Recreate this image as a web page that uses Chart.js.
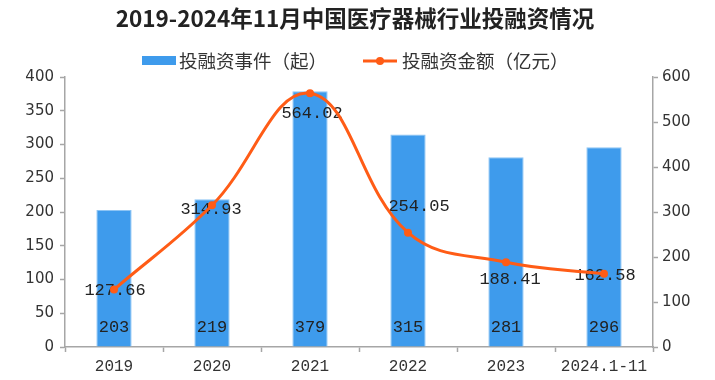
<!DOCTYPE html>
<html>
<head>
<meta charset="utf-8">
<script src="https://cdn.jsdelivr.net/npm/chart.js@4"></script>
<style>
html,body{margin:0;padding:0;background:#fff;}
#wrap{width:715px;height:380px;position:relative;}
</style>
</head>
<body>
<div id="wrap"><canvas id="c" width="715" height="380"></canvas></div>
<script>
const categories = ['2019', '2020', '2021', '2022', '2023', '2024.1-11'];
const eventCounts = [203, 219, 379, 315, 281, 296];
const amounts = [127.66, 314.93, 564.02, 254.05, 188.41, 162.58];
const leftTicks = [0, 50, 100, 150, 200, 250, 300, 350, 400];
const rightTicks = [0, 100, 200, 300, 400, 500, 600];
const titleText = '2019-2024年11月中国医疗器械行业投融资情况';
const seriesNames = ['投融资事件（起）', '投融资金额（亿元）'];

// label offsets for the amount labels (style, not data)
const amountLabelOffsets = [[1, 1], [-1, 4], [2, 20], [11, -26], [4, 17], [1, 2]];

const BLUE = '#3e9bec';
const ORANGE = '#ff5c16';
const AXIS = '#a6a6a6';
const TXT = '#222';

const customDraw = {
  id: 'customDraw',
  afterDatasetDraw(chart, args) {
    if (args.index !== 0) return;
    const ctx = chart.ctx;
    ctx.save();
    ctx.font = '17px "Liberation Mono"';
    ctx.fillStyle = TXT;
    ctx.textAlign = 'center';
    ctx.textBaseline = 'middle';
    const barMeta = chart.getDatasetMeta(0);
    barMeta.data.forEach((el, i) => {
      ctx.fillText(String(eventCounts[i]), el.x, chart.scales.y.getPixelForValue(0) - 20);
    });
    const lineMeta = chart.getDatasetMeta(1);
    lineMeta.data.forEach((el, i) => {
      const o = amountLabelOffsets[i];
      ctx.fillText(amounts[i].toFixed(2), el.x + o[0], el.y + o[1]);
    });
    ctx.restore();
  },
  afterDraw(chart) {
    const ctx = chart.ctx;
    ctx.save();
    // title
    ctx.font = 'bold 22.5px "Noto Sans CJK SC"';
    ctx.fillStyle = TXT;
    ctx.textAlign = 'center';
    ctx.textBaseline = 'middle';
    ctx.fillText(titleText, 355, 18);
    // legend
    ctx.font = '18.5px "Noto Sans CJK SC"';
    ctx.textAlign = 'left';
    const ly = 61;
    ctx.fillStyle = BLUE;
    ctx.fillRect(142, ly - 5, 34, 9);
    ctx.fillStyle = '#333';
    ctx.fillText(seriesNames[0], 179, ly);
    ctx.strokeStyle = ORANGE;
    ctx.lineWidth = 3;
    ctx.beginPath();
    ctx.moveTo(363, ly);
    ctx.lineTo(397, ly);
    ctx.stroke();
    ctx.fillStyle = ORANGE;
    ctx.beginPath();
    ctx.arc(380, ly, 4, 0, Math.PI * 2);
    ctx.fill();
    ctx.fillStyle = '#333';
    ctx.fillText(seriesNames[1], 402, ly);
    ctx.restore();
  }
};

new Chart(document.getElementById('c'), {
  data: {
    labels: categories,
    datasets: [
      {
        type: 'bar',
        label: seriesNames[0],
        data: eventCounts,
        backgroundColor: BLUE,
        borderColor: '#8cc4f4',
        borderWidth: {left: 1, right: 1, top: 1, bottom: 0},
        barPercentage: 0.36,
        categoryPercentage: 1,
        yAxisID: 'y',
        order: 1
      },
      {
        type: 'line',
        label: seriesNames[1],
        data: amounts,
        borderColor: ORANGE,
        backgroundColor: ORANGE,
        borderWidth: 3,
        pointRadius: 4,
        pointHoverRadius: 4,
        pointBackgroundColor: ORANGE,
        pointBorderWidth: 0,
        tension: 0.4,
        fill: false,
        yAxisID: 'y1',
        order: 0
      }
    ]
  },
  options: {
    responsive: false,
    animation: false,
    events: [],
    layout: {padding: {top: 77, left: 0, right: 0, bottom: 0}},
    plugins: {
      legend: {display: false},
      title: {display: false},
      tooltip: {enabled: false}
    },
    scales: {
      x: {
        offset: true,
        grid: {display: true, drawOnChartArea: false, offset: true, color: AXIS, tickLength: 5, tickWidth: 1.5},
        border: {display: true, color: AXIS, width: 1.5},
        ticks: {color: '#333', font: {family: 'Liberation Mono', size: 16}, padding: 5, maxRotation: 0, autoSkip: false},
        afterFit(s) { s.height = 33; }
      },
      y: {
        position: 'left',
        min: 0, max: 400,
        afterBuildTicks(s) { s.ticks = leftTicks.map(v => ({value: v})); },
        grid: {display: true, drawOnChartArea: false, color: AXIS, tickLength: 5, tickWidth: 1.5},
        border: {display: true, color: AXIS, width: 1.5},
        ticks: {color: '#333', font: {family: 'DejaVu Sans', size: 15}, padding: 6},
        afterFit(s) { s.width = 65; }
      },
      y1: {
        position: 'right',
        min: 0, max: 600,
        afterBuildTicks(s) { s.ticks = rightTicks.map(v => ({value: v})); },
        grid: {display: true, drawOnChartArea: false, color: AXIS, tickLength: 5, tickWidth: 1.5},
        border: {display: true, color: AXIS, width: 1.5},
        ticks: {color: '#333', font: {family: 'DejaVu Sans', size: 15}, padding: 4},
        afterFit(s) { s.width = 62; }
      }
    }
  },
  plugins: [customDraw]
});
</script>
</body>
</html>
